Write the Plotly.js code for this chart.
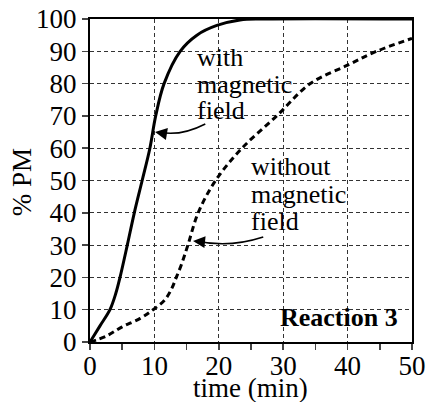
<!DOCTYPE html>
<html><head><meta charset="utf-8">
<script src="https://cdn.plot.ly/plotly-3.0.1.min.js"></script>
<style>html,body{margin:0;padding:0;background:#fff}#plot{width:427px;height:402px}</style>
</head><body><div id="plot"></div>
<script>
const withTime = [0, 1.55, 3.1, 4.0, 4.66, 5.79, 6.88, 8.1, 9.3, 10.2, 11.5, 14, 16.6, 19.7, 23.3, 27, 50];
const withPM   = [0, 5, 10, 15, 20, 30, 40, 50, 60, 70, 80, 90, 95, 98, 99.7, 100, 100];
const withoutTime = [0, 2.5, 5, 7.8, 9.8, 11.6, 12.7, 13.4, 14.2, 15.2, 16.8, 19.5, 23.6, 29, 34.2, 40, 44.5, 50];
const withoutPM   = [0, 1.8, 4.7, 7.3, 10, 13, 16.6, 20, 24, 30, 40, 50, 60, 70, 80, 85.7, 90, 94];
const xTicks = [0, 10, 20, 30, 40, 50];
const yTicks = [0, 10, 20, 30, 40, 50, 60, 70, 80, 90, 100];
const withLabel = ['with', 'magnetic', 'field'];
const withoutLabel = ['without', 'magnetic', 'field'];

const serif = 'Liberation Serif, Times New Roman, serif';
const FS = 27;
const AFS = 26;
const data = [
  {x: withTime, y: withPM, mode: 'lines', line: {color: '#000', width: 3, shape: 'spline', smoothing: 1}, hoverinfo: 'skip'},
  {x: withoutTime, y: withoutPM, mode: 'lines', line: {color: '#000', width: 3, dash: '6px,4px', shape: 'spline', smoothing: 1}, hoverinfo: 'skip'}
];
const annotations = [];
const withY = [88.0, 79.8, 71.6];
withLabel.forEach((t, i) => annotations.push({x: 16.3, y: withY[i], xref: 'x', yref: 'y', text: t, showarrow: false, xanchor: 'left', yanchor: 'middle', font: {size: AFS}}));
const withoutY = [54.2, 45.8, 37.4];
withoutLabel.forEach((t, i) => annotations.push({x: 24.7, y: withoutY[i], xref: 'x', yref: 'y', text: t, showarrow: false, xanchor: 'left', yanchor: 'middle', font: {size: AFS}}));
annotations.push({x: 48.2, y: 7.6, xref: 'x', yref: 'y', text: '<b>Reaction 3</b>', showarrow: false, xanchor: 'right', yanchor: 'middle', font: {size: AFS}});
annotations.push({x: 10.1, y: 65, ax: 11.6, ay: 64.5, axref: 'x', ayref: 'y', xref: 'x', yref: 'y', text: '', showarrow: true, arrowhead: 2, arrowsize: 1.6, arrowwidth: 1.5, arrowcolor: '#000'});
annotations.push({x: 16.0, y: 31.3, ax: 17.5, ay: 31.0, axref: 'x', ayref: 'y', xref: 'x', yref: 'y', text: '', showarrow: true, arrowhead: 2, arrowsize: 1.6, arrowwidth: 1.5, arrowcolor: '#000'});
annotations.push({x: 0.497, y: -0.142, xref: 'paper', yref: 'paper', text: 'time (min)', showarrow: false, xanchor: 'center', yanchor: 'middle', font: {size: FS}});
annotations.push({x: -0.211, y: 0.495, xref: 'paper', yref: 'paper', text: '% PM', textangle: -90, showarrow: false, xanchor: 'center', yanchor: 'middle', font: {size: FS}});

const layout = {
  width: 427, height: 402,
  margin: {l: 90, r: 15, t: 19, b: 60},
  showlegend: false,
  paper_bgcolor: '#fff', plot_bgcolor: '#fff',
  font: {family: serif, color: '#000', size: FS},
  xaxis: {
    range: [0, 50], tickvals: xTicks, ticks: 'outside', ticklen: 6, tickwidth: 1.5,
    showline: true, linewidth: 2, linecolor: '#000', mirror: true,
    showgrid: true, gridcolor: '#333', gridwidth: 1, griddash: '4px,3px',
    zeroline: false, tickfont: {size: FS}, ticklabelstandoff: -7,
    minor: {dtick: 5, ticks: 'outside', ticklen: 6, tickwidth: 1.5, showgrid: false}
  },
  yaxis: {
    range: [0, 100], tickvals: yTicks, ticks: 'outside', ticklen: 6, tickwidth: 1.5,
    showline: true, linewidth: 2, linecolor: '#000', mirror: true,
    showgrid: true, gridcolor: '#333', gridwidth: 1, griddash: '4px,3px',
    zeroline: false, tickfont: {size: FS}
  },
  shapes: [
    {type: 'path', xref: 'x', yref: 'y', path: 'M 17.9 67.5 Q 14 63.5 10.6 65', line: {color: '#000', width: 1.5}},
    {type: 'path', xref: 'x', yref: 'y', path: 'M 26.9 32.5 Q 21.5 29 16.6 31.3', line: {color: '#000', width: 1.5}}
  ],
  annotations: annotations
};
Plotly.newPlot('plot', data, layout, {staticPlot: true, displayModeBar: false});
</script>
</body></html>
